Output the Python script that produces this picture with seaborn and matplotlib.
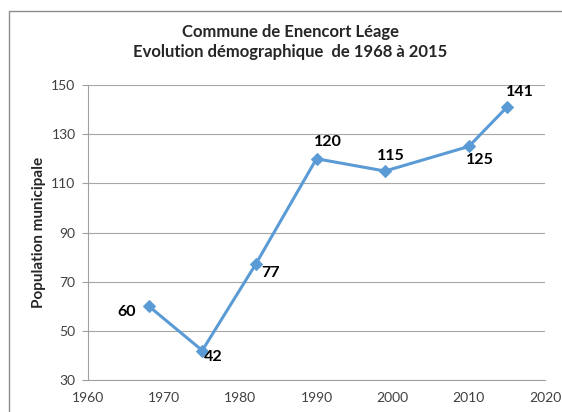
import matplotlib
matplotlib.use("Agg")
import matplotlib.pyplot as plt
import seaborn as sns
import pandas as pd
from matplotlib.patches import Rectangle

years = [1968, 1975, 1982, 1990, 1999, 2010, 2015]
population = [60, 42, 77, 120, 115, 125, 141]
label_offsets = [(-16, -4), (8, -5), (11, -6), (8, 12), (4, 11), (8, -10), (9, 11)]
xticks = [1960, 1970, 1980, 1990, 2000, 2010, 2020]
yticks = [30, 50, 70, 90, 110, 130, 150]

sns.set_theme(style="white")
plt.rcParams['font.family'] = ['Lato', 'DejaVu Sans']

df = pd.DataFrame({"annee": years, "pop": population})

fig = plt.figure(figsize=(5.62, 4.12), dpi=100)
ax = fig.add_axes([88/562, 1-380/412, (545-88)/562, (380-85)/412])

color = "#5B9BD5"
sns.lineplot(data=df, x="annee", y="pop", ax=ax, color=color, linewidth=2.2,
             marker="D", markersize=6, markeredgecolor=color, markerfacecolor=color)

for x, y, (dx, dy) in zip(years, population, label_offsets):
    ax.annotate(str(y), (x, y), xytext=(dx, dy), textcoords="offset points",
                ha="center", va="center", fontsize=11.5, fontweight="bold", color="black")

ax.set_xlim(1960, 2020)
ax.set_ylim(30, 150)
ax.set_xticks(xticks)
ax.set_yticks(yticks)
ax.tick_params(axis="both", labelsize=10, labelcolor="#404040", length=4, width=0.8,
               direction="out", left=True, bottom=False, pad=5)
ax.tick_params(axis="y", color="#a0a0a0")
ax.yaxis.grid(True, color="#a6a6a6", linewidth=0.8)
ax.xaxis.grid(False)
ax.set_axisbelow(True)
for s in ["top", "right"]:
    ax.spines[s].set_visible(False)
for s in ["left", "bottom"]:
    ax.spines[s].set_color("#a0a0a0")
    ax.spines[s].set_linewidth(0.8)

ax.set_xlabel("")
ax.set_ylabel("Population municipale", fontsize=11, fontweight="bold", labelpad=4)

fig.text(290/562, 1-32/412, "Commune de Enencort Léage", ha="center", va="center",
         fontsize=12, fontweight="bold")
fig.text(290/562, 1-52/412, "Evolution démographique  de 1968 à 2015", ha="center", va="center",
         fontsize=12, fontweight="bold")

fig.patches.append(Rectangle((9/562, -0.01), 560/562, 1-11/412 + 0.01, transform=fig.transFigure,
                             fill=False, edgecolor="#8c8c8c", linewidth=1.0))

fig.savefig("out.png", dpi=100)
